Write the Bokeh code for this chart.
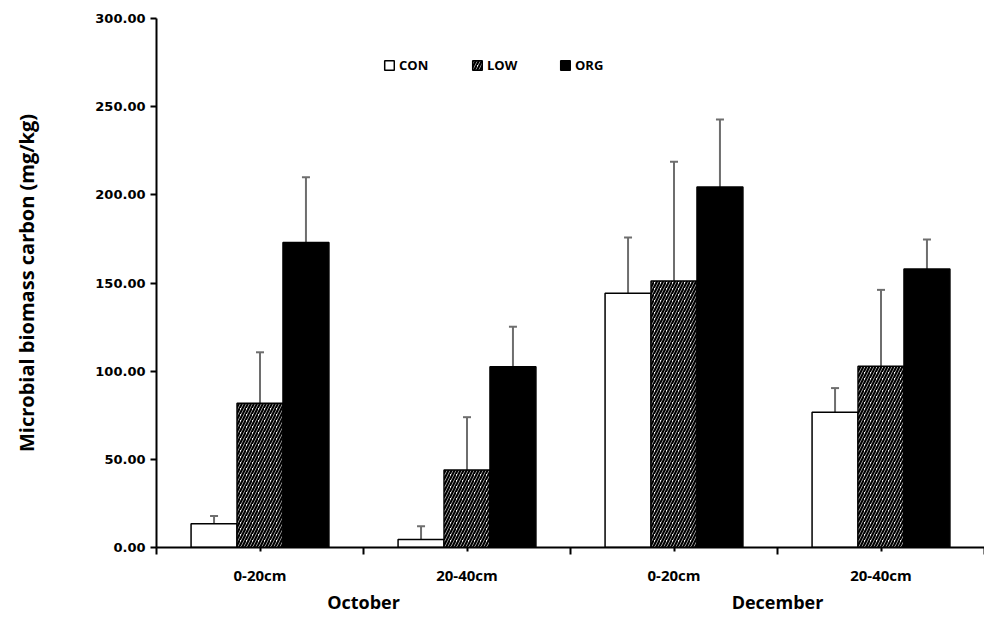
from bokeh.plotting import figure
from bokeh.models import (Range1d, FixedTicker, LinearAxis, NumeralTickFormatter, Whisker,
                          ColumnDataSource, TeeHead, Legend, LegendItem, CustomJSTickFormatter)
from bokeh.embed import file_html
from bokeh.resources import INLINE

# ---- data ----
depths = ["0-20cm", "20-40cm", "0-20cm", "20-40cm"]
months = ["October", "December"]
treatments = ["CON", "LOW", "ORG"]
con = [13.4, 4.5, 144.2, 76.7]
con_err = [4.5, 7.5, 31.6, 13.7]
low = [81.8, 44.0, 151.1, 102.8]
low_err = [28.9, 29.9, 67.7, 43.3]
org = [173.0, 102.5, 204.5, 157.9]
org_err = [37.0, 22.7, 38.2, 16.7]
y_ticks = [0, 50, 100, 150, 200, 250, 300]
y_label = "Microbial biomass carbon (mg/kg)"

# ---- layout / style ----
bar_w = 0.222
offsets = [-bar_w, 0.0, bar_w]
fills = ["white", "white", "black"]
hatches = [None, "right_diagonal_line", None]
series = [con, low, org]
errors = [con_err, low_err, org_err]
centers = [i + 0.5 for i in range(len(depths))]

p = figure(width=984, height=616, x_range=Range1d(0, 4), y_range=Range1d(0, 300),
           output_backend="svg", toolbar_location=None, x_axis_type=None, y_axis_type=None,
           min_border_left=156, min_border_top=18, min_border_right=0, min_border_bottom=0)
p.outline_line_color = None
p.background_fill_color = "white"
p.border_fill_color = "white"

# y axis
yax = LinearAxis(ticker=FixedTicker(ticks=y_ticks), formatter=NumeralTickFormatter(format="0.00"),
                 axis_label=y_label)
yax.axis_line_width = 2
yax.axis_line_color = "black"
yax.major_tick_out = 6
yax.major_tick_in = 0
yax.major_tick_line_width = 2
yax.minor_tick_line_color = None
yax.major_label_text_font = "DejaVu Sans"
yax.major_label_text_font_style = "bold"
yax.major_label_text_font_size = "13px"
yax.major_label_text_color = "black"
yax.major_label_standoff = 5
yax.axis_label_text_font = "Open Sans"
yax.axis_label_text_font_style = "bold"
yax.axis_label_text_font_size = "20px"
yax.axis_label_text_color = "black"
yax.axis_label_standoff = 52
p.add_layout(yax, "left")

# x axis (depth labels)
xax = LinearAxis(ticker=FixedTicker(ticks=centers, minor_ticks=[0, 1, 2, 3, 4]),
                 formatter=CustomJSTickFormatter(args=dict(labels=depths),
                                                 code="return labels[Math.floor(tick)];"))
xax.axis_line_width = 2
xax.axis_line_color = "black"
xax.major_tick_out = 4
xax.major_tick_in = 0
xax.major_tick_line_width = 2
xax.minor_tick_out = 7
xax.minor_tick_in = 0
xax.minor_tick_line_width = 2
xax.minor_tick_line_color = "black"
xax.major_label_text_font = "Open Sans"
xax.major_label_text_font_style = "bold"
xax.major_label_text_font_size = "15px"
xax.major_label_text_color = "black"
xax.major_label_standoff = 10
p.add_layout(xax, "below")

# x axis (month labels)
max_ = LinearAxis(ticker=FixedTicker(ticks=[1, 3]),
                  formatter=CustomJSTickFormatter(args=dict(labels=months),
                                                  code="return labels[Math.floor(tick / 2)];"))
max_.axis_line_color = None
max_.major_tick_line_color = None
max_.minor_tick_line_color = None
max_.major_tick_out = 0
max_.major_tick_in = 0
max_.major_label_text_font = "Open Sans"
max_.major_label_text_font_style = "bold"
max_.major_label_text_font_size = "18px"
max_.major_label_text_color = "black"
max_.major_label_standoff = 2
p.add_layout(max_, "below")

items = []
for name, vals, errs, off, fill, hatch in zip(treatments, series, errors, offsets, fills, hatches):
    xs = [c + off for c in centers]
    src = ColumnDataSource(dict(x=xs, top=vals, upper=[v + e for v, e in zip(vals, errs)]))
    kw = dict(x="x", top="top", bottom=0, width=bar_w, source=src,
              fill_color=fill, line_color="black", line_width=1.5)
    if hatch:
        kw.update(hatch_pattern=hatch, hatch_color="black", hatch_scale=6, hatch_weight=2.2)
    r = p.vbar(**kw)
    w = Whisker(base="x", lower="top", upper="upper", source=src, dimension="height",
                line_color="#6e6e6e", line_width=2,
                upper_head=TeeHead(size=8, line_color="#6e6e6e", line_width=2), lower_head=None)
    p.add_layout(w)
    items.append(LegendItem(label=name, renderers=[r]))

legend = Legend(items=items, orientation="horizontal", location=(227, 473))
legend.padding = 0
legend.margin = 0
legend.border_line_color = None
legend.background_fill_alpha = 0
legend.glyph_width = 12
legend.glyph_height = 12
legend.label_standoff = 4
legend.label_width = 60
legend.spacing = 12
legend.label_text_font = "Open Sans"
legend.label_text_font_style = "bold"
legend.label_text_font_size = "13px"
legend.label_text_color = "black"
p.add_layout(legend, "center")

open("out.html", "w").write(file_html(p, INLINE))
